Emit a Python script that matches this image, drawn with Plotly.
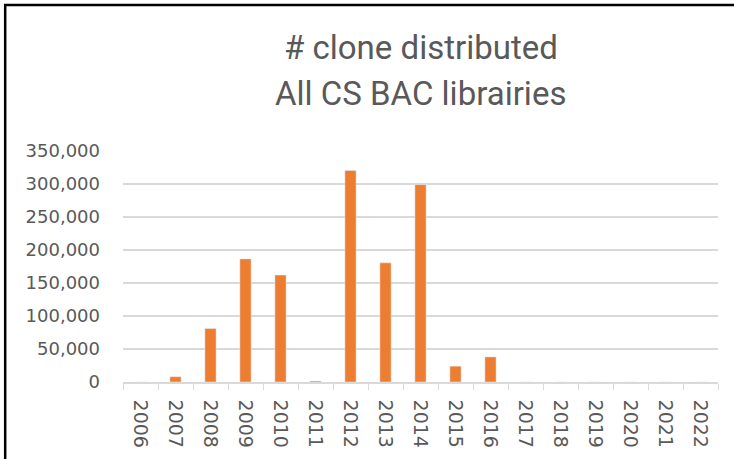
import plotly.graph_objects as go

years = [str(y) for y in range(2006, 2023)]
clones = [0, 8000, 81000, 186500, 162000, 1500, 320500, 180500, 299000,
          24000, 38000, 0, 0, 0, 0, 0, 0]
title_lines = ['# clone distributed', 'All CS BAC librairies']

grey = '#595959'
grid = '#d9d9d9'
tick_font = dict(size=18, color=grey, family='DejaVu Sans, sans-serif')
xtick_font = dict(size=19, color=grey, family='DejaVu Sans, sans-serif')
title_font = dict(size=33, color=grey, family='Roboto, sans-serif')

fig = go.Figure(
    data=[
        go.Bar(x=years, y=clones, marker=dict(color='#ED7D31'))
    ]
)

fig.update_layout(
    width=734,
    height=459,
    paper_bgcolor='white',
    plot_bgcolor='white',
    margin=dict(l=123, r=16, t=151, b=77),
    bargap=0.68,
    showlegend=False,
    annotations=[
        dict(text=title_lines[0], xref='paper', yref='paper', x=0.5, y=1 + (151 - 48) / 231,
             xanchor='center', yanchor='middle', showarrow=False, font=title_font),
        dict(text=title_lines[1], xref='paper', yref='paper', x=0.5, y=1 + (151 - 93) / 231,
             xanchor='center', yanchor='middle', showarrow=False, font=title_font),
    ],
    shapes=[
        dict(type='rect', xref='paper', yref='paper',
             x0=-0.198, x1=1.05, y0=-0.5, y1=1.632,
             line=dict(color='black', width=2.5), fillcolor='rgba(0,0,0,0)')
    ],
)

fig.update_xaxes(
    type='category',
    tickangle=90,
    tickfont=xtick_font,
    automargin=False,
    showline=True,
    linecolor=grid,
    linewidth=1.5,
    ticks='outside',
    tickson='boundaries',
    ticklen=6,
    tickcolor=grid,
    ticklabelstandoff=12,
    showgrid=False,
)
fig.update_yaxes(
    range=[0, 350000],
    dtick=50000,
    tickformat=',',
    tickfont=tick_font,
    automargin=False,
    showgrid=True,
    gridcolor=grid,
    gridwidth=1.5,
    zeroline=False,
    ticks='',
    ticklabelstandoff=22,
)

# page body has a default 8px margin; drop it so the figure sits at the window corner
fig.write_html("out.html", config={'displayModeBar': False},
               post_script="document.body.style.margin='0';")
